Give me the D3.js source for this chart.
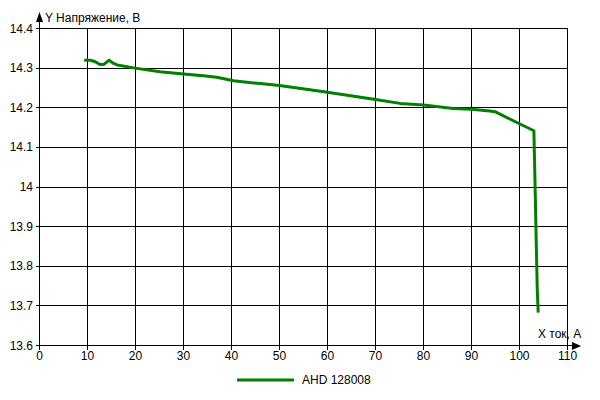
<!DOCTYPE html>
<html lang="ru">
  <head>
    <meta charset="UTF-8" />
    <title>Напряжение от тока</title>
    <script src="https://d3js.org/d3.v7.min.js"></script>
    <style>
      body {
        margin: 0;
        background: #fff;
      }
      text {
        font-family: "Liberation Sans", Arial, sans-serif;
        font-size: 12px;
        fill: #000;
      }
      .grid line {
        stroke: #000;
        stroke-width: 1;
        shape-rendering: crispEdges;
      }
    </style>
  </head>
  <body>
    <svg id="chart" width="600" height="400"></svg>

    <script>
      // Ток, А
      var current = [
        9.3, 10.6, 11.6, 12.6, 13.5, 14.5, 15.4, 16.2, 19.9, 25.1, 30.0, 34.1,
        36.9, 40.4, 46.0, 50, 60, 70, 75.1, 80, 86.2, 90, 93.8, 94.9, 100.1,
        103.0, 103.1, 103.3, 103.5, 103.7, 103.9,
      ];
      // Напряжение, В
      var voltage = [
        14.32, 14.32, 14.316, 14.309, 14.31, 14.32, 14.312, 14.308, 14.3,
        14.291, 14.285, 14.281, 14.277, 14.268, 14.261, 14.256, 14.239, 14.221,
        14.211, 14.207, 14.198, 14.196, 14.192, 14.19, 14.159, 14.142, 14.085,
        13.973, 13.854, 13.741, 13.683,
      ];
      var xTicks = [0, 10, 20, 30, 40, 50, 60, 70, 80, 90, 100, 110];
      var yTicks = [13.6, 13.7, 13.8, 13.9, 14, 14.1, 14.2, 14.3, 14.4];
      var seriesName = "AHD 128008";

      var svg = d3.select("#chart");

      var x = d3.scaleLinear().domain([0, 110]).range([39.5, 567.5]);
      var y = d3.scaleLinear().domain([13.6, 14.4]).range([345.5, 28.5]);

      var data = current.map(function (c, i) {
        return { x: c, y: voltage[i] };
      });

      // Grid
      var grid = svg.append("g").attr("class", "grid");
      grid
        .selectAll(".vline")
        .data(xTicks)
        .enter()
        .append("line")
        .attr("x1", function (d) {
          return x(d);
        })
        .attr("x2", function (d) {
          return x(d);
        })
        .attr("y1", y(14.4))
        .attr("y2", y(13.6) + 4);
      grid
        .selectAll(".hline")
        .data(yTicks)
        .enter()
        .append("line")
        .attr("y1", function (d) {
          return y(d);
        })
        .attr("y2", function (d) {
          return y(d);
        })
        .attr("x1", x(0) - 4)
        .attr("x2", x(110));

      // Axis lines with arrows
      grid
        .append("line")
        .attr("x1", x(0))
        .attr("x2", x(0))
        .attr("y1", y(13.6))
        .attr("y2", 18);
      grid
        .append("line")
        .attr("x1", x(0))
        .attr("x2", 574)
        .attr("y1", y(13.6))
        .attr("y2", y(13.6));
      svg
        .append("path")
        .attr("d", "M36,22 L43,22 L39.5,12 Z")
        .attr("fill", "#000");
      svg
        .append("path")
        .attr("d", "M572,342 L572,350 L581,346 Z")
        .attr("fill", "#000");

      // Tick labels
      svg
        .selectAll(".ylab")
        .data(yTicks)
        .enter()
        .append("text")
        .attr("x", 33)
        .attr("y", function (d) {
          return y(d) + 4;
        })
        .attr("text-anchor", "end")
        .text(function (d) {
          return d === 14 ? "14" : d.toFixed(1);
        });
      svg
        .selectAll(".xlab")
        .data(xTicks)
        .enter()
        .append("text")
        .attr("x", function (d) {
          return x(d);
        })
        .attr("y", 360)
        .attr("text-anchor", "middle")
        .text(function (d) {
          return d;
        });

      // Axis titles
      svg.append("text").attr("x", 45).attr("y", 22).text("Y Напряжение, В");
      svg.append("text").attr("x", 538).attr("y", 338).text("X ток, А");

      // Series line
      var line = d3
        .line()
        .x(function (d) {
          return x(d.x);
        })
        .y(function (d) {
          return y(d.y);
        });
      svg
        .append("path")
        .datum(data)
        .attr("d", line)
        .attr("fill", "none")
        .attr("stroke", "#008000")
        .attr("stroke-width", 3)
        .attr("stroke-linejoin", "round");

      // Legend
      var legend = svg.append("g").attr("transform", "translate(237,380)");
      legend
        .append("line")
        .attr("x1", 0)
        .attr("x2", 57)
        .attr("y1", 0)
        .attr("y2", 0)
        .attr("stroke", "#008000")
        .attr("stroke-width", 3);
      legend.append("text").attr("x", 65).attr("y", 4).text(seriesName);
    </script>
  </body>
</html>
